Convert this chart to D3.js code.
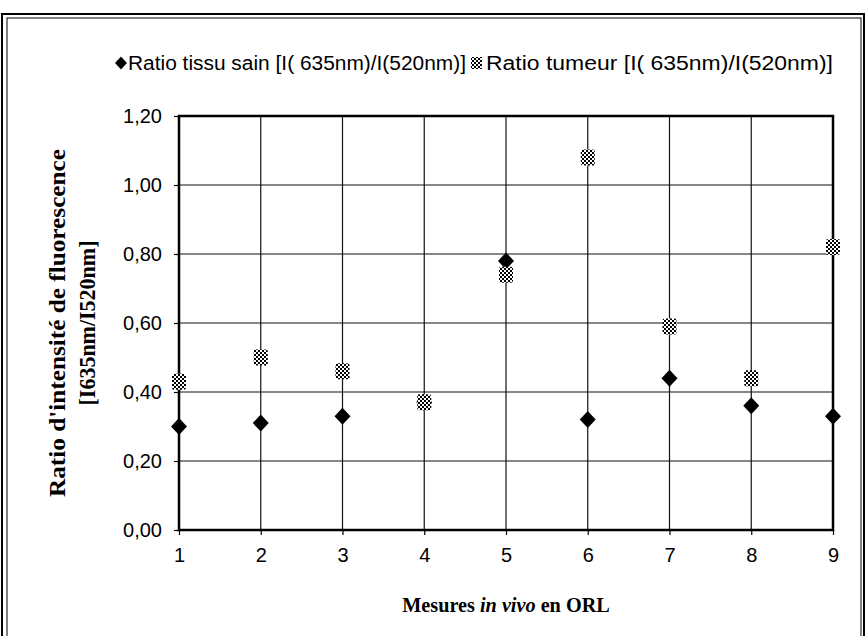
<!DOCTYPE html>
<html><head><meta charset="utf-8">
<script src="https://cdn.jsdelivr.net/npm/d3@7"></script>
<style>body{margin:0;background:#fff}svg{display:block}</style>
</head><body>
<svg id="c" width="867" height="636"></svg>
<script>
const mesures = [1,2,3,4,5,6,7,8,9];
const ratioSain = [0.30,0.31,0.33,0.37,0.78,0.32,0.44,0.36,0.33];
const ratioTumeur = [0.43,0.50,0.46,0.37,0.74,1.08,0.59,0.44,0.82];
const yTicks = [0,0.2,0.4,0.6,0.8,1.0,1.2];
const legendLabels = ["Ratio tissu sain [I( 635nm)/I(520nm)]","Ratio tumeur [I( 635nm)/I(520nm)]"];

const svg = d3.select("#c");
const m = {l:179, r:833, t:116, b:530};
const x = d3.scaleLinear().domain([1,9]).range([m.l,m.r]);
const y = d3.scaleLinear().domain([0,1.2]).range([m.b,m.t]);

const defs = svg.append("defs");
const pat = defs.append("pattern").attr("id","chk").attr("width",4).attr("height",4).attr("patternUnits","userSpaceOnUse");
pat.append("rect").attr("width",4).attr("height",4).attr("fill","#fff");
pat.append("rect").attr("width",2).attr("height",2).attr("fill","#000");
pat.append("rect").attr("x",2).attr("y",2).attr("width",2).attr("height",2).attr("fill","#000");

// outer frame
svg.append("rect").attr("x",2).attr("y",14).attr("width",862).attr("height",640).attr("fill","none").attr("stroke","#000").attr("stroke-width",2);
svg.append("rect").attr("x",7).attr("y",18).attr("width",854).attr("height",640).attr("fill","none").attr("stroke","#000").attr("stroke-width",1);

// grid
const g = svg.append("g");
g.selectAll(".hg").data(yTicks).join("line")
 .attr("x1",m.l).attr("x2",m.r).attr("y1",d=>y(d)).attr("y2",d=>y(d))
 .attr("stroke","#111").attr("stroke-width",1.2);
g.selectAll(".vg").data(mesures).join("line")
 .attr("y1",m.t).attr("y2",m.b).attr("x1",d=>x(d)).attr("x2",d=>x(d))
 .attr("stroke","#111").attr("stroke-width",1.2);

svg.append("rect").attr("x",m.l).attr("y",m.t).attr("width",m.r-m.l).attr("height",m.b-m.t)
 .attr("fill","none").attr("stroke","#000").attr("stroke-width",2.5);

// axes
const yAxis = d3.axisLeft(y).tickValues(yTicks).tickSize(5).tickPadding(12)
  .tickFormat(d=>d3.format(".2f")(d).replace(".",","));
const ya = svg.append("g").attr("transform",`translate(${m.l},0)`).call(yAxis);
const xAxis = d3.axisBottom(x).tickValues(mesures).tickSize(5).tickPadding(13).tickFormat(d3.format("d"));
const xa = svg.append("g").attr("transform",`translate(0,${m.b})`).call(xAxis);
[ya,xa].forEach(a=>{
  a.select(".domain").remove();
  a.selectAll("line").attr("stroke","#000").attr("stroke-width",1.2);
  a.selectAll("text").attr("font-family","'Liberation Sans', Arial, sans-serif").attr("font-size",20).attr("fill","#000");
});

// markers
const diamond = "M0,-8.5L8,0L0,8.5L-8,0Z";
svg.append("g").selectAll("path").data(mesures).join("path")
 .attr("d",diamond).attr("fill","#000")
 .attr("transform",(d,i)=>`translate(${x(d)},${y(ratioSain[i])})`);
svg.append("g").selectAll("rect").data(mesures).join("rect")
 .attr("x",(d)=>x(d)-7).attr("y",(d,i)=>y(ratioTumeur[i])-8)
 .attr("width",14).attr("height",16).attr("rx",2).attr("fill","url(#chk)");

// legend
const lg = svg.append("g").attr("font-family","'Liberation Sans', Arial, sans-serif").attr("font-size",19.5);
lg.append("path").attr("d","M0,-6.5L6,0L0,6.5L-6,0Z").attr("transform","translate(121,63)").attr("fill","#000");
lg.append("text").attr("x",128).attr("y",70).text(legendLabels[0]).attr("textLength",338).attr("lengthAdjust","spacingAndGlyphs");
lg.append("rect").attr("x",471).attr("y",57).attr("width",11).attr("height",12).attr("fill","url(#chk)");
lg.append("text").attr("x",486).attr("y",70).text(legendLabels[1]).attr("textLength",347).attr("lengthAdjust","spacingAndGlyphs");

// axis titles
const xt = svg.append("text").attr("transform",`translate(${(m.l+m.r)/2},612) scale(0.92,1)`).attr("text-anchor","middle")
 .attr("font-family","'Liberation Serif', 'Times New Roman', serif").attr("font-weight","bold").attr("font-size",22);
xt.append("tspan").text("Mesures ");
xt.append("tspan").attr("font-style","italic").text("in vivo");
xt.append("tspan").text(" en ORL");

const yt = svg.append("text").attr("transform",`translate(65,${(m.t+m.b)/2}) rotate(-90)`).attr("text-anchor","middle")
 .attr("font-family","'Liberation Serif', 'Times New Roman', serif").attr("font-weight","bold").attr("font-size",23);
yt.append("tspan").attr("x",0).attr("y",0).text("Ratio d'intensité de fluorescence").attr("textLength",348).attr("lengthAdjust","spacingAndGlyphs");
yt.append("tspan").attr("x",0).attr("y",30).text("[I635nm/I520nm]").attr("textLength",165).attr("lengthAdjust","spacingAndGlyphs");
</script>
</body></html>
